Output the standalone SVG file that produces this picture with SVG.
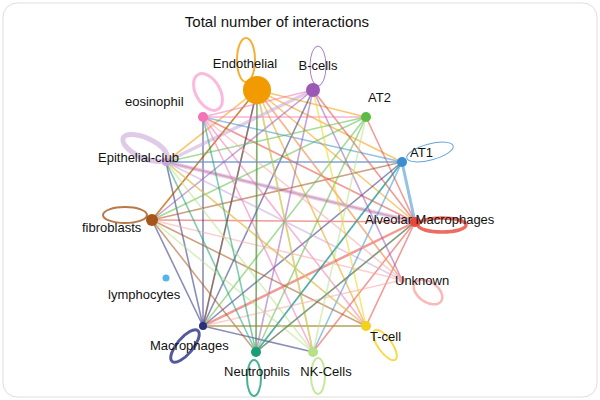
<svg xmlns="http://www.w3.org/2000/svg" width="600" height="400" viewBox="0 0 600 400">
<style>
text{font-family:"Liberation Sans",Arial,sans-serif;font-size:13px;fill:#111}
.t{font-size:15px}
#edges line{stroke-opacity:.55;stroke-width:1.6}
.loop{fill:none;stroke-opacity:.8;stroke-width:2}
.c0{stroke:#F29B00}.c1{stroke:#9B59B6}.c2{stroke:#5DBB46}.c3{stroke:#3A8FD0}.c4{stroke:#E8473B}.c5{stroke:#F7A8A8}.c6{stroke:#F2D21B}.c7{stroke:#B8E186}.c8{stroke:#1B9E77}.c9{stroke:#2B2F7F}.c11{stroke:#A6561A}.c12{stroke:#C9A6D8}.c13{stroke:#F472B6}
</style>
<rect x="0" y="0" width="600" height="400" fill="#fff"/>
<rect x="3" y="3" width="594" height="394" rx="14" fill="#fff" stroke="#ddd"/>
<text class="t" x="277" y="27" text-anchor="middle">Total number of interactions</text>
<g id="edges">
<line class="c0" x1="257" y1="90" x2="402" y2="162"/><line class="c0" x1="257" y1="90" x2="415" y2="222"/><line class="c0" x1="257" y1="90" x2="402" y2="280"/><line class="c0" x1="257" y1="90" x2="366" y2="326"/><line class="c0" x1="257" y1="90" x2="313" y2="352"/><line class="c0" x1="257" y1="90" x2="256" y2="352"/><line class="c0" x1="257" y1="90" x2="203" y2="326"/><line class="c0" x1="257" y1="90" x2="152" y2="220"/><line class="c0" x1="257" y1="90" x2="166" y2="162"/><line class="c0" x1="257" y1="90" x2="366" y2="117"/>
<line class="c4" x1="415" y1="222" x2="313" y2="90"/><line class="c4" x1="415" y1="222" x2="366" y2="117"/><line class="c4" x1="415" y1="222" x2="203" y2="326" style="stroke-width:2.5"/><line class="c4" x1="415" y1="222" x2="152" y2="220"/><line class="c4" x1="415" y1="222" x2="166" y2="162"/><line class="c4" x1="415" y1="222" x2="203" y2="117"/><line class="c4" x1="415" y1="222" x2="256" y2="352"/><line class="c4" x1="415" y1="222" x2="313" y2="352"/><line class="c4" x1="415" y1="222" x2="366" y2="326"/>
<line class="c9" x1="203" y1="326" x2="257" y2="90"/><line class="c9" x1="203" y1="326" x2="313" y2="90"/><line class="c9" x1="203" y1="326" x2="402" y2="162"/><line class="c9" x1="203" y1="326" x2="166" y2="162"/><line class="c9" x1="203" y1="326" x2="203" y2="117"/><line class="c9" x1="203" y1="326" x2="366" y2="326"/><line class="c9" x1="203" y1="326" x2="313" y2="352"/><line class="c9" x1="203" y1="326" x2="152" y2="220"/>
<line class="c12" x1="166" y1="162" x2="415" y2="222" style="stroke-width:4"/><line class="c12" x1="166" y1="162" x2="402" y2="162"/><line class="c12" x1="166" y1="162" x2="313" y2="90" style="stroke-width:3.5"/><line class="c12" x1="166" y1="162" x2="402" y2="280"/><line class="c12" x1="166" y1="162" x2="366" y2="326"/>
<line class="c11" x1="152" y1="220" x2="257" y2="90"/><line class="c11" x1="152" y1="220" x2="402" y2="162"/><line class="c11" x1="152" y1="220" x2="366" y2="326"/><line class="c11" x1="152" y1="220" x2="256" y2="352"/>
<line class="c13" x1="203" y1="117" x2="313" y2="90"/><line class="c13" x1="203" y1="117" x2="366" y2="326"/><line class="c13" x1="203" y1="117" x2="313" y2="352"/><line class="c13" x1="203" y1="117" x2="366" y2="117"/>
<line class="c1" x1="313" y1="90" x2="152" y2="220"/><line class="c1" x1="313" y1="90" x2="256" y2="352"/><line class="c1" x1="313" y1="90" x2="402" y2="280"/>
<line class="c2" x1="366" y1="117" x2="203" y2="326"/><line class="c2" x1="366" y1="117" x2="152" y2="220"/><line class="c2" x1="366" y1="117" x2="166" y2="162"/><line class="c2" x1="366" y1="117" x2="256" y2="352"/>
<line class="c3" x1="402" y1="162" x2="256" y2="352"/><line class="c3" x1="402" y1="162" x2="166" y2="162"/><line class="c3" x1="402" y1="162" x2="203" y2="117"/><line class="c3" x1="402" y1="162" x2="313" y2="352"/><line class="c3" x1="402" y1="162" x2="415" y2="222" style="stroke-width:3"/>
<line class="c5" x1="402" y1="280" x2="152" y2="220"/><line class="c5" x1="402" y1="280" x2="257" y2="90"/><line class="c5" x1="402" y1="280" x2="203" y2="326"/><line class="c5" x1="402" y1="280" x2="203" y2="117"/>
<line class="c6" x1="366" y1="326" x2="166" y2="162"/><line class="c6" x1="366" y1="326" x2="313" y2="90"/><line class="c6" x1="366" y1="326" x2="203" y2="326"/>
<line class="c7" x1="313" y1="352" x2="257" y2="90"/><line class="c7" x1="313" y1="352" x2="166" y2="162"/><line class="c7" x1="313" y1="352" x2="366" y2="117"/><line class="c7" x1="313" y1="352" x2="152" y2="220"/>
<line class="c8" x1="256" y1="352" x2="257" y2="90"/><line class="c8" x1="256" y1="352" x2="402" y2="162"/><line class="c8" x1="256" y1="352" x2="166" y2="162"/><line class="c8" x1="256" y1="352" x2="203" y2="117"/><line class="c8" x1="256" y1="352" x2="415" y2="222"/>
</g>
<g id="loops">
<ellipse class="loop c0" cx="246" cy="60" rx="9" ry="22"/>
<ellipse class="loop c1" cx="318" cy="66" rx="8" ry="20" style="stroke-width:1"/>
<ellipse class="loop c13" cx="208" cy="92" rx="12" ry="20" transform="rotate(-30 208 92)" style="stroke-width:3;stroke:#F9A8D4"/>
<ellipse class="loop c12" cx="145" cy="148" rx="24" ry="10" transform="rotate(25 145 148)" style="stroke-width:5;stroke-opacity:.6"/>
<ellipse class="loop c11" cx="125" cy="215" rx="22" ry="8"/>
<ellipse class="loop c3" cx="430" cy="152" rx="24" ry="8" transform="rotate(-15 430 152)" style="stroke-width:1"/>
<ellipse class="loop c4" cx="442" cy="225" rx="24" ry="7" style="stroke-width:3.5"/>
<ellipse class="loop c5" cx="428" cy="292" rx="16" ry="10" transform="rotate(35 428 292)" style="stroke-width:2.5"/>
<ellipse class="loop c6" cx="385" cy="345" rx="7" ry="18" transform="rotate(-35 385 345)"/>
<ellipse class="loop c7" cx="318" cy="376" rx="7" ry="18"/>
<ellipse class="loop c8" cx="254" cy="378" rx="7" ry="18"/>
<ellipse class="loop c9" cx="185" cy="346" rx="8" ry="20" transform="rotate(40 185 346)" style="stroke-width:3"/>
</g>
<g id="n0"><circle cx="257" cy="90" r="14" fill="#F29B00"/><text x="245" y="68" text-anchor="middle">Endothelial</text></g>
<g id="n1"><circle cx="313" cy="90" r="7" fill="#9B59B6"/><text x="318" y="70" text-anchor="middle">B-cells</text></g>
<g id="n2"><circle cx="366" cy="117" r="5" fill="#5DBB46"/><text x="368" y="102">AT2</text></g>
<g id="n3"><circle cx="402" cy="162" r="5" fill="#3A8FD0"/><text x="410" y="157">AT1</text></g>
<g id="n4"><circle cx="415" cy="222" r="5" fill="#E8473B"/><text x="365" y="224">Alveolar Macrophages</text></g>
<g id="n5"><circle cx="402" cy="280" r="3" fill="#F7A8A8"/><text x="395" y="285">Unknown</text></g>
<g id="n6"><circle cx="366" cy="326" r="5" fill="#F2D21B"/><text x="370" y="341">T-cell</text></g>
<g id="n7"><circle cx="313" cy="352" r="5" fill="#B8E186"/><text x="326" y="376" text-anchor="middle">NK-Cells</text></g>
<g id="n8"><circle cx="256" cy="352" r="5" fill="#1B9E77"/><text x="257" y="376" text-anchor="middle">Neutrophils</text></g>
<g id="n9"><circle cx="203" cy="326" r="4" fill="#2B2F7F"/><text x="150" y="350">Macrophages</text></g>
<g id="n10"><circle cx="166" cy="278" r="3.5" fill="#56B4E9"/><text x="108" y="299">lymphocytes</text></g>
<g id="n11"><circle cx="152" cy="220" r="6" fill="#A6561A"/><text x="82" y="232">fibroblasts</text></g>
<g id="n12"><circle cx="166" cy="162" r="4" fill="#C9A6D8"/><text x="98" y="162">Epithelial-club</text></g>
<g id="n13"><circle cx="203" cy="117" r="5" fill="#F472B6"/><text x="125" y="106">eosinophil</text></g>
</svg>
